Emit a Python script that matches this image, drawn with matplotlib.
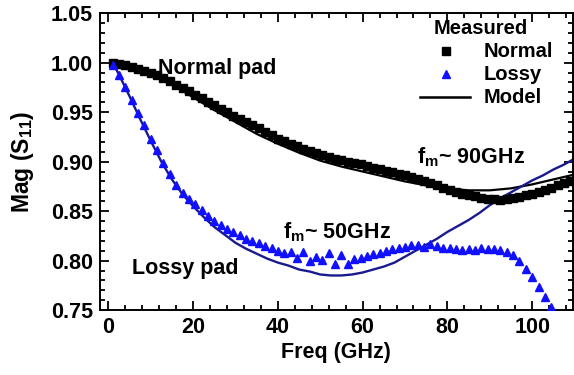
import matplotlib
matplotlib.use("Agg")
import matplotlib.pyplot as plt
from matplotlib.ticker import MultipleLocator, FormatStrFormatter

plt.rcParams['font.family'] = ['Liberation Sans', 'DejaVu Sans']
plt.rcParams['font.weight'] = 'bold'
plt.rcParams['mathtext.fontset'] = 'custom'
plt.rcParams['mathtext.rm'] = 'Liberation Sans:bold'
plt.rcParams['mathtext.bf'] = 'Liberation Sans:bold'
plt.rcParams['mathtext.it'] = 'Liberation Sans:bold'
plt.rcParams['mathtext.default'] = 'bf'

# Measured frequency sweep (GHz)
freq_meas = [1, 2.5, 4, 5.5, 7, 8.5, 10, 11.5, 13, 14.5, 16, 17.5, 19, 20.5, 22,
             23.5, 25, 26.5, 28, 29.5, 31, 32.5, 34, 35.5, 37, 38.5, 40, 41.5,
             43, 44.5, 46, 47.5, 49, 50.5, 52, 53.5, 55, 56.5, 58, 59.5, 61,
             62.5, 64, 65.5, 67, 68.5, 70, 71.5, 73, 74.5, 76, 77.5, 79, 80.5,
             82, 83.5, 85, 86.5, 88, 89.5, 91, 92.5, 94, 95.5, 97, 98.5, 100,
             101.5, 103, 104.5, 106, 107.5, 109, 110.5]

normal_meas = [1.000, 0.999, 0.998, 0.996, 0.994, 0.992, 0.990, 0.987, 0.984,
               0.981, 0.977, 0.974, 0.971, 0.967, 0.964, 0.960, 0.957, 0.953,
               0.950, 0.946, 0.943, 0.940, 0.937, 0.934, 0.930, 0.927, 0.923,
               0.921, 0.918, 0.916, 0.913, 0.911, 0.909, 0.907, 0.905, 0.903,
               0.902, 0.900, 0.899, 0.898, 0.896, 0.894, 0.893, 0.891, 0.890,
               0.888, 0.886, 0.884, 0.882, 0.880, 0.878, 0.876, 0.873, 0.871,
               0.869, 0.867, 0.866, 0.865, 0.863, 0.862, 0.862, 0.861, 0.862,
               0.863, 0.864, 0.866, 0.867, 0.869, 0.871, 0.873, 0.876, 0.878,
               0.880, 0.882]

lossy_freq = freq_meas[:70]
lossy_meas = [0.998, 0.988, 0.975, 0.962, 0.949, 0.937, 0.923, 0.912, 0.899,
              0.888, 0.876, 0.868, 0.862, 0.857, 0.851, 0.845, 0.840, 0.836,
              0.832, 0.829, 0.826, 0.822, 0.820, 0.818, 0.815, 0.813, 0.810,
              0.808, 0.809, 0.803, 0.809, 0.800, 0.804, 0.801, 0.808, 0.797,
              0.806, 0.797, 0.802, 0.803, 0.805, 0.807, 0.808, 0.810, 0.812,
              0.813, 0.814, 0.816, 0.816, 0.814, 0.817, 0.815, 0.813, 0.813,
              0.812, 0.811, 0.812, 0.811, 0.813, 0.812, 0.812, 0.811, 0.809,
              0.806, 0.800, 0.792, 0.783, 0.773, 0.763, 0.753]

# Model curves
freq_model_normal = [1, 5, 10, 15, 20, 25, 30, 35, 40, 45, 50, 55, 60, 65, 70,
                     75, 80, 85, 90, 95, 100, 105, 110]
normal_model = [1.000, 0.997, 0.990, 0.978, 0.965, 0.952, 0.940, 0.928, 0.918,
                0.909, 0.901, 0.895, 0.890, 0.885, 0.880, 0.876, 0.873, 0.871,
                0.871, 0.873, 0.877, 0.882, 0.887]

freq_model_lossy = [1, 2.5, 5, 7.5, 10, 12.5, 15, 17.5, 20, 22.5, 25, 27.5, 30,
                    32.5, 35, 37.5, 40, 42.5, 45, 47.5, 50, 52.5, 55, 57.5, 60,
                    62.5, 65, 67.5, 70, 72.5, 75, 77.5, 80, 82.5, 85, 87.5, 90,
                    92.5, 95, 97.5, 100, 102.5, 105, 107.5, 110]
lossy_model = [1.000, 0.988, 0.966, 0.943, 0.921, 0.900, 0.882, 0.867, 0.855,
               0.844, 0.834, 0.826, 0.818, 0.812, 0.807, 0.802, 0.798, 0.795,
               0.791, 0.789, 0.786, 0.785, 0.785, 0.786, 0.788, 0.791, 0.794,
               0.798, 0.804, 0.810, 0.816, 0.822, 0.829, 0.835, 0.841, 0.848,
               0.856, 0.863, 0.869, 0.875, 0.881, 0.886, 0.892, 0.897, 0.903]

legend_title = 'Measured'
legend_labels = ['Normal', 'Lossy', 'Model']

BLUE = '#1010ff'
NAVY = '#1a1a8f'
FS = 15.5

fig = plt.figure(figsize=(5.74, 3.75), dpi=100)
ax = fig.add_axes([0.174, 0.173, 0.824, 0.792])

ax.plot(freq_model_normal, normal_model, color='black', lw=1.6, zorder=2)
ax.plot(freq_model_lossy, lossy_model, color=NAVY, lw=1.7, zorder=2)
ax.plot(freq_meas, normal_meas, ls='none', marker='s', ms=5.3, color='black',
        mec='black', zorder=3)
ax.plot(lossy_freq, lossy_meas, ls='none', marker='^', ms=6.0, color=BLUE,
        mec=BLUE, zorder=3)

ax.set_xlim(-2, 109.6)
ax.set_ylim(0.75, 1.05)
ax.xaxis.set_major_locator(MultipleLocator(20))
ax.xaxis.set_minor_locator(MultipleLocator(4))
ax.yaxis.set_major_locator(MultipleLocator(0.05))
ax.yaxis.set_minor_locator(MultipleLocator(0.01))
ax.yaxis.set_major_formatter(FormatStrFormatter('%.2f'))
ax.tick_params(which='both', direction='in', top=True, right=True,
               labeltop=False, labelright=False, width=1.3)
ax.tick_params(which='major', length=6.5, labelsize=FS, pad=5)
ax.tick_params(which='minor', length=3.5)
for s in ax.spines.values():
    s.set_linewidth(1.4)

ax.set_xlabel('Freq (GHz)', fontsize=FS, fontweight='bold', labelpad=3)
ax.set_ylabel('Mag (S$_{11}$)', fontsize=16.5, fontweight='bold', labelpad=11)

ax.text(11.8, 0.9944, 'Normal pad', fontsize=FS, fontweight='bold', va='center', ha='left')
ax.text(5.6, 0.792, 'Lossy pad', fontsize=FS, fontweight='bold', va='center', ha='left')
ax.text(41.2, 0.829, 'f$_m$~ 50GHz', fontsize=FS, fontweight='bold', va='center', ha='left')
ax.text(72.9, 0.904, 'f$_m$~ 90GHz', fontsize=FS, fontweight='bold', va='center', ha='left')

# Legend drawn in axes coordinates
T = ax.transAxes
LFS = 14.5
ax.text(0.805, 0.949, legend_title, transform=T, fontsize=LFS, fontweight='bold',
        ha='center', va='center')
ax.plot([0.731], [0.872], transform=T, ls='none', marker='s', ms=5.3, color='black', clip_on=False)
ax.plot([0.731], [0.795], transform=T, ls='none', marker='^', ms=6.0, color=BLUE, clip_on=False)
ax.plot([0.677, 0.782], [0.717, 0.717], transform=T, color='black', lw=1.8, clip_on=False)
for yy, lab in zip([0.872, 0.795, 0.717], legend_labels):
    ax.text(0.812, yy, lab, transform=T, fontsize=LFS, fontweight='bold',
            ha='left', va='center')

fig.savefig('out.png', dpi=100)
